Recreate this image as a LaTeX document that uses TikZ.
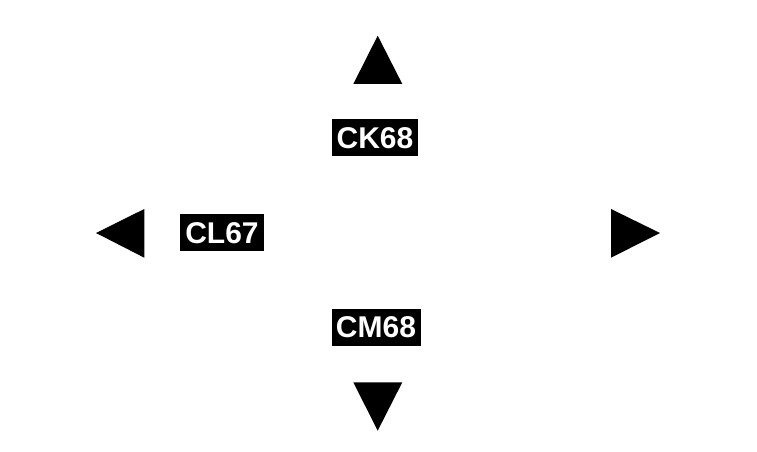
\documentclass[tikz,border=0pt]{standalone}
\usepackage{fontspec}
\setmainfont{Liberation Sans}
\begin{document}
\begin{tikzpicture}[x=1pt,y=1pt,
  lbl/.style={fill=black,text=white,font=\bfseries\fontsize{30}{32}\selectfont,
    inner sep=0pt,text height=21pt,text depth=0pt,minimum height=37pt},
  tri/.style={fill=black}]
\useasboundingbox (0,0) rectangle (757,452);
\node[lbl,minimum width=86pt] (ck) at (375,314) {CK68};
\node[lbl,minimum width=84pt] (cl) at (222,219) {CL67};
\node[lbl,minimum width=89pt] (cm) at (376,124.5) {CM68};
% top
\fill[tri] (377.7,416.3) -- (402.3,368) -- (353.3,368) -- cycle;
% bottom
\fill[tri] (377.7,21.3) -- (402.3,69.7) -- (353.3,69.7) -- cycle;
% left
\fill[tri] (96,219) -- (144.3,243) -- (144.3,194.3) -- cycle;
% right
\fill[tri] (660,219) -- (611,243) -- (611,194.3) -- cycle;
\end{tikzpicture}
\end{document}
